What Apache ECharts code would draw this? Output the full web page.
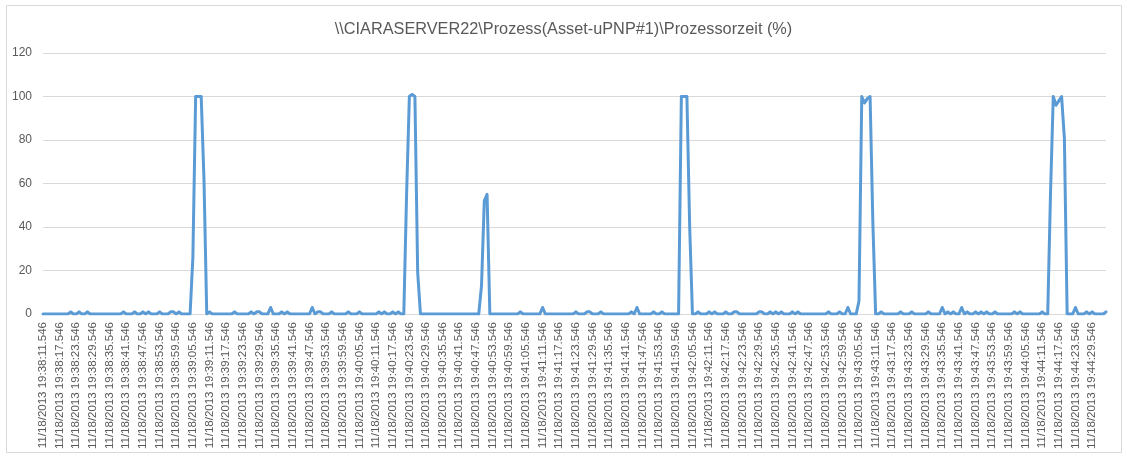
<!DOCTYPE html>
<html>
<head>
<meta charset="utf-8">
<script src="https://cdn.jsdelivr.net/npm/echarts@6/dist/echarts.min.js"></script>
<style>
html,body{margin:0;padding:0;background:#ffffff;}
#chart{width:1127px;height:458px;}
</style>
</head>
<body>
<div id="chart"></div>
<script>
// ---- data ----
var chartTitle = "\\\\CIARASERVER22\\Prozess(Asset-uPNP#1)\\Prozessorzeit (%)";
var datePart = "11/18/2013";
var startClock = [19, 38, 11];   // first sample time (h, m, s)
var millisPart = ".546";
var sampleCount = 384;           // one sample per second
var yTicks = [0, 20, 40, 60, 80, 100, 120];

var cpuValues = [
  0,0,0,0,0,0,0,0,0,0, 1,0,0,1,0,0,1,0,0,0,
  0,0,0,0,0,0,0,0,0,1, 0,0,0,1,0,0,1,0,1,0,
  0,0,1,0,0,0,1,1,0,1, 0,0,0,0,26,100,100,100,62,0,
  1,0,0,0,0,0,0,0,0,1, 0,0,0,0,0,1,0,1,1,0,
  0,0,3,0,0,0,1,0,1,0, 0,0,0,0,0,0,0,3,0,1,
  1,0,0,0,1,0,0,0,0,0, 1,0,0,0,1,0,0,0,0,0,
  0,1,0,1,0,0,1,0,1,0, 0,55,100,101,100,19,0,0,0,0,
  0,0,0,0,0,0,0,0,0,0, 0,0,0,0,0,0,0,0,13,52,
  55,0,0,0,0,0,0,0,0,0, 0,0,1,0,0,0,0,0,0,0,
  3,0,0,0,0,0,0,0,0,0, 0,0,1,0,0,0,1,1,0,0,
  0,1,0,0,0,0,0,0,0,0, 0,0,1,0,3,0,0,0,0,0,
  1,0,0,1,0,0,0,0,0,0, 100,100,100,40,0,0,1,0,0,0,
  1,0,1,0,0,0,1,0,0,1, 1,0,0,0,0,0,0,0,1,1,
  0,0,1,0,1,0,1,0,0,0, 1,0,1,0,0,0,0,0,0,0,
  0,0,0,1,0,0,0,1,0,0, 3,0,0,0,6,100,97,99,100,42,
  0,0,1,0,0,0,0,0,0,1, 0,0,0,1,0,0,0,0,0,1,
  0,0,0,0,3,0,1,0,1,0, 0,3,0,1,0,0,1,0,1,0,
  1,0,0,1,0,0,0,0,0,0, 1,0,1,0,0,0,0,0,0,0,
  1,0,0,55,100,96,98,100,81,0, 0,0,3,0,0,0,1,0,1,0,
  0,0,0,1
];

// ---- categories (timestamps, one per second) ----
function pad(n){ return (n < 10 ? "0" : "") + n; }
var categories = [];
(function(){
  var base = startClock[0]*3600 + startClock[1]*60 + startClock[2];
  for (var i = 0; i < sampleCount; i++) {
    var s = base + i;
    var h = Math.floor(s/3600), m = Math.floor((s%3600)/60), sec = s%60;
    categories.push(datePart + " " + pad(h) + ":" + pad(m) + ":" + pad(sec) + millisPart);
  }
})();

var font = "'Liberation Sans', Arial, sans-serif";
var chart = echarts.init(document.getElementById('chart'), null, {renderer:'canvas'});
chart.setOption({
  animation: false,
  backgroundColor: '#ffffff',
  title: {
    text: chartTitle,
    left: 'center',
    top: 17,
    textStyle: { color: '#595959', fontSize: 16.3, fontWeight: 'normal', fontFamily: font }
  },
  grid: { left: 43, right: 21, top: 53, bottom: 144, containLabel: false },
  xAxis: {
    type: 'category',
    data: categories,
    boundaryGap: false,
    axisLine: { show: true, lineStyle: { color: '#d9d9d9', width: 1 } },
    axisTick: { show: false },
    axisLabel: {
      interval: 5,
      rotate: 90,
      margin: 8,
      color: '#595959',
      fontSize: 11.5,
      fontFamily: font
    },
    splitLine: { show: false }
  },
  yAxis: {
    type: 'value',
    min: yTicks[0],
    max: yTicks[yTicks.length-1],
    interval: 20,
    axisLine: { show: false },
    axisTick: { show: false },
    axisLabel: { color: '#595959', fontSize: 12, fontFamily: font, margin: 11 },
    splitLine: { show: true, lineStyle: { color: '#d9d9d9', width: 1 } }
  },
  series: [{
    type: 'line',
    data: cpuValues,
    showSymbol: false,
    symbol: 'none',
    smooth: false,
    lineStyle: { color: '#5b9bd5', width: 3, cap: 'round', join: 'round' },
    itemStyle: { color: '#5b9bd5' }
  }],
  graphic: [
    { type: 'rect', shape: { x: 6.5, y: 5.5, width: 1115, height: 447 },
      style: { fill: 'none', stroke: '#d9d9d9', lineWidth: 1 }, silent: true }
  ]
});
</script>
</body>
</html>
